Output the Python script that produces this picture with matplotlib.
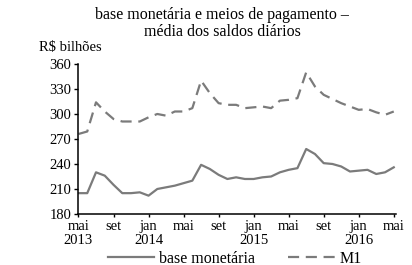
import matplotlib
matplotlib.use("Agg")
import matplotlib.pyplot as plt

# médias mensais, mai/2013 a mai/2016 (R$ bilhões)
base_monetaria = [205, 205, 230, 226, 215, 205, 205, 206, 202, 210, 212, 214, 217,
                  220, 239, 234, 227, 222, 224, 222, 222, 224, 225, 230, 233,
                  235, 258, 252, 241, 240, 237, 231, 232, 233, 228, 230, 236]
m1 = [276, 279, 314, 303, 294, 291, 291, 291, 296, 300, 298, 303, 303,
      307, 340, 325, 313, 311, 311, 307, 308, 309, 307, 316, 317,
      319, 350, 333, 323, 318, 313, 309, 305, 306, 302, 299, 303]
tick_pos = [0, 4, 8, 12, 16, 20, 24, 28, 32, 36]
tick_labels = ["mai\n2013", "set", "jan\n2014", "mai", "set",
               "jan\n2015", "mai", "set", "jan\n2016", "mai"]
y_ticks = [180, 210, 240, 270, 300, 330, 360]

GRAY = "#7b7b7b"
plt.rcParams["font.family"] = ["Liberation Serif", "DejaVu Serif"]

fig = plt.figure(figsize=(4.12, 2.65), dpi=100)
ax = fig.add_axes([0.1905, 0.1925, 0.7695, 0.566])

x = range(len(m1))
ax.plot(x, base_monetaria, color=GRAY, lw=1.6, label="base monetária")
ax.plot(x, m1, color=GRAY, lw=1.6, ls=(0, (5, 3)), label="M1")

ax.set_xlim(0, 36.2)
ax.set_ylim(180, 360)
ax.set_yticks(y_ticks)
ax.set_xticks(tick_pos, tick_labels)
ax.tick_params(axis="y", labelsize=10.5, length=3, width=1, pad=2)
ax.tick_params(axis="x", labelsize=10.5, length=2.5, width=1, pad=2)
for lbl in ax.get_xticklabels():
    lbl.set_linespacing(1.1)
for s in ["top", "right"]:
    ax.spines[s].set_visible(False)
for s in ["left", "bottom"]:
    ax.spines[s].set_linewidth(1.1)

fig.text(0.539, 0.91, "base monetária e meios de pagamento –\nmédia dos saldos diários",
         ha="center", va="center", fontsize=11.5, linespacing=1.1)
fig.text(0.095, 0.822, "R$ bilhões", ha="left", va="center", fontsize=10.5)

fig.legend(loc="lower center", bbox_to_anchor=(0.57, -0.06), ncol=2, frameon=False,
           fontsize=11.5, handlelength=2.9, columnspacing=2.1, handletextpad=0.3)

fig.savefig("out.png", dpi=100)
